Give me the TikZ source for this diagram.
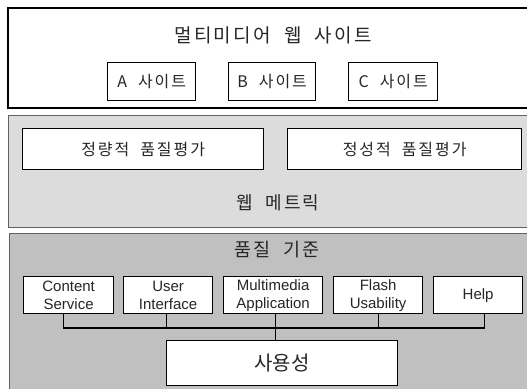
\documentclass[tikz,border=0pt]{standalone}
\usepackage{fontspec}
\setmainfont{Noto Sans CJK KR}
\newfontfamily\kr[LetterSpace=12,WordSpace=2]{Noto Sans CJK KR}
\newfontfamily\lat{Liberation Sans}
\begin{document}
\begin{tikzpicture}[x=1pt,y=-1pt,
  outerbox/.style={draw=black!62, line width=1pt},
  wbox/.style={draw=black, line width=1.3pt, fill=white, rectangle, anchor=north west, inner sep=0pt, text=black!85},
  lbl/.style={text=black!85, inner sep=0pt},
  conn/.style={draw=black, line width=1.3pt}
]
\useasboundingbox (0,0) rectangle (527,388);
\clip (0,0) rectangle (527,388);
% top layer
\draw[line width=1.2pt, fill=white] (8,8) rectangle (540,108);
\node[lbl, font=\kr\fontsize{19}{22}\selectfont] (title) at (273,35) {멀티미디어 웹 사이트};
\node[wbox, minimum width=88pt, minimum height=38pt, font=\kr\fontsize{16}{19}\selectfont] (a) at (107,62) {A 사이트};
\node[wbox, minimum width=87pt, minimum height=38pt, font=\kr\fontsize{16}{19}\selectfont] (b) at (228,62) {B 사이트};
\node[wbox, minimum width=89pt, minimum height=38pt, font=\kr\fontsize{16}{19}\selectfont] (c) at (348,62) {C 사이트};
% middle layer
\draw[outerbox, fill={rgb,255:red,220;green,220;blue,220}] (8,115) rectangle (540,227);
\node[wbox, minimum width=241pt, minimum height=41pt, font=\kr\fontsize{16}{19}\selectfont] (q1) at (22,128) {정량적 품질평가};
\node[wbox, minimum width=234pt, minimum height=41pt, font=\kr\fontsize{16}{19}\selectfont] (q2) at (287,128) {정성적 품질평가};
\node[lbl, font=\kr\fontsize{18}{21}\selectfont] (wm) at (278,203) {웹 메트릭};
% bottom layer
\draw[outerbox, fill={rgb,255:red,192;green,192;blue,192}] (9,233) rectangle (540,400);
\node[lbl, font=\kr\fontsize{18.5}{21}\selectfont] (qc) at (277,250) {품질 기준};
\tikzset{sbox/.style={wbox, minimum height=37pt, font=\lat\fontsize{15}{18}\selectfont, align=center}}
\node[sbox, minimum width=90pt] (cs) at (23,276) {Content\\Service};
\node[sbox, minimum width=89pt] (ui) at (123,276) {User\\Interface};
\node[sbox, minimum width=99pt] (mm) at (223,276) {Multimedia\\Application};
\node[sbox, minimum width=89pt] (fl) at (333,276) {Flash\\Usability};
\node[sbox, minimum width=89pt] (hp) at (433,276) {Help};
\node[wbox, minimum width=231pt, minimum height=45pt, font=\fontsize{20}{23}\selectfont] (us) at (166,340) {사용성};
\coordinate (bus) at (0,328);
\draw[conn] ([xshift=-5pt]cs.south) -- ([xshift=-5pt]cs.south |- bus) -- ([xshift=6.5pt]hp.south |- bus) -- ([xshift=6.5pt]hp.south);
\draw[conn] ([xshift=-1.5pt]ui.south) -- ([xshift=-1.5pt]ui.south |- bus);
\draw[conn] ([xshift=0.5pt]fl.south) -- ([xshift=0.5pt]fl.south |- bus);
\draw[conn] ([xshift=2.5pt]mm.south) -- ([xshift=2.5pt]mm.south |- us.north);
\end{tikzpicture}
\end{document}
